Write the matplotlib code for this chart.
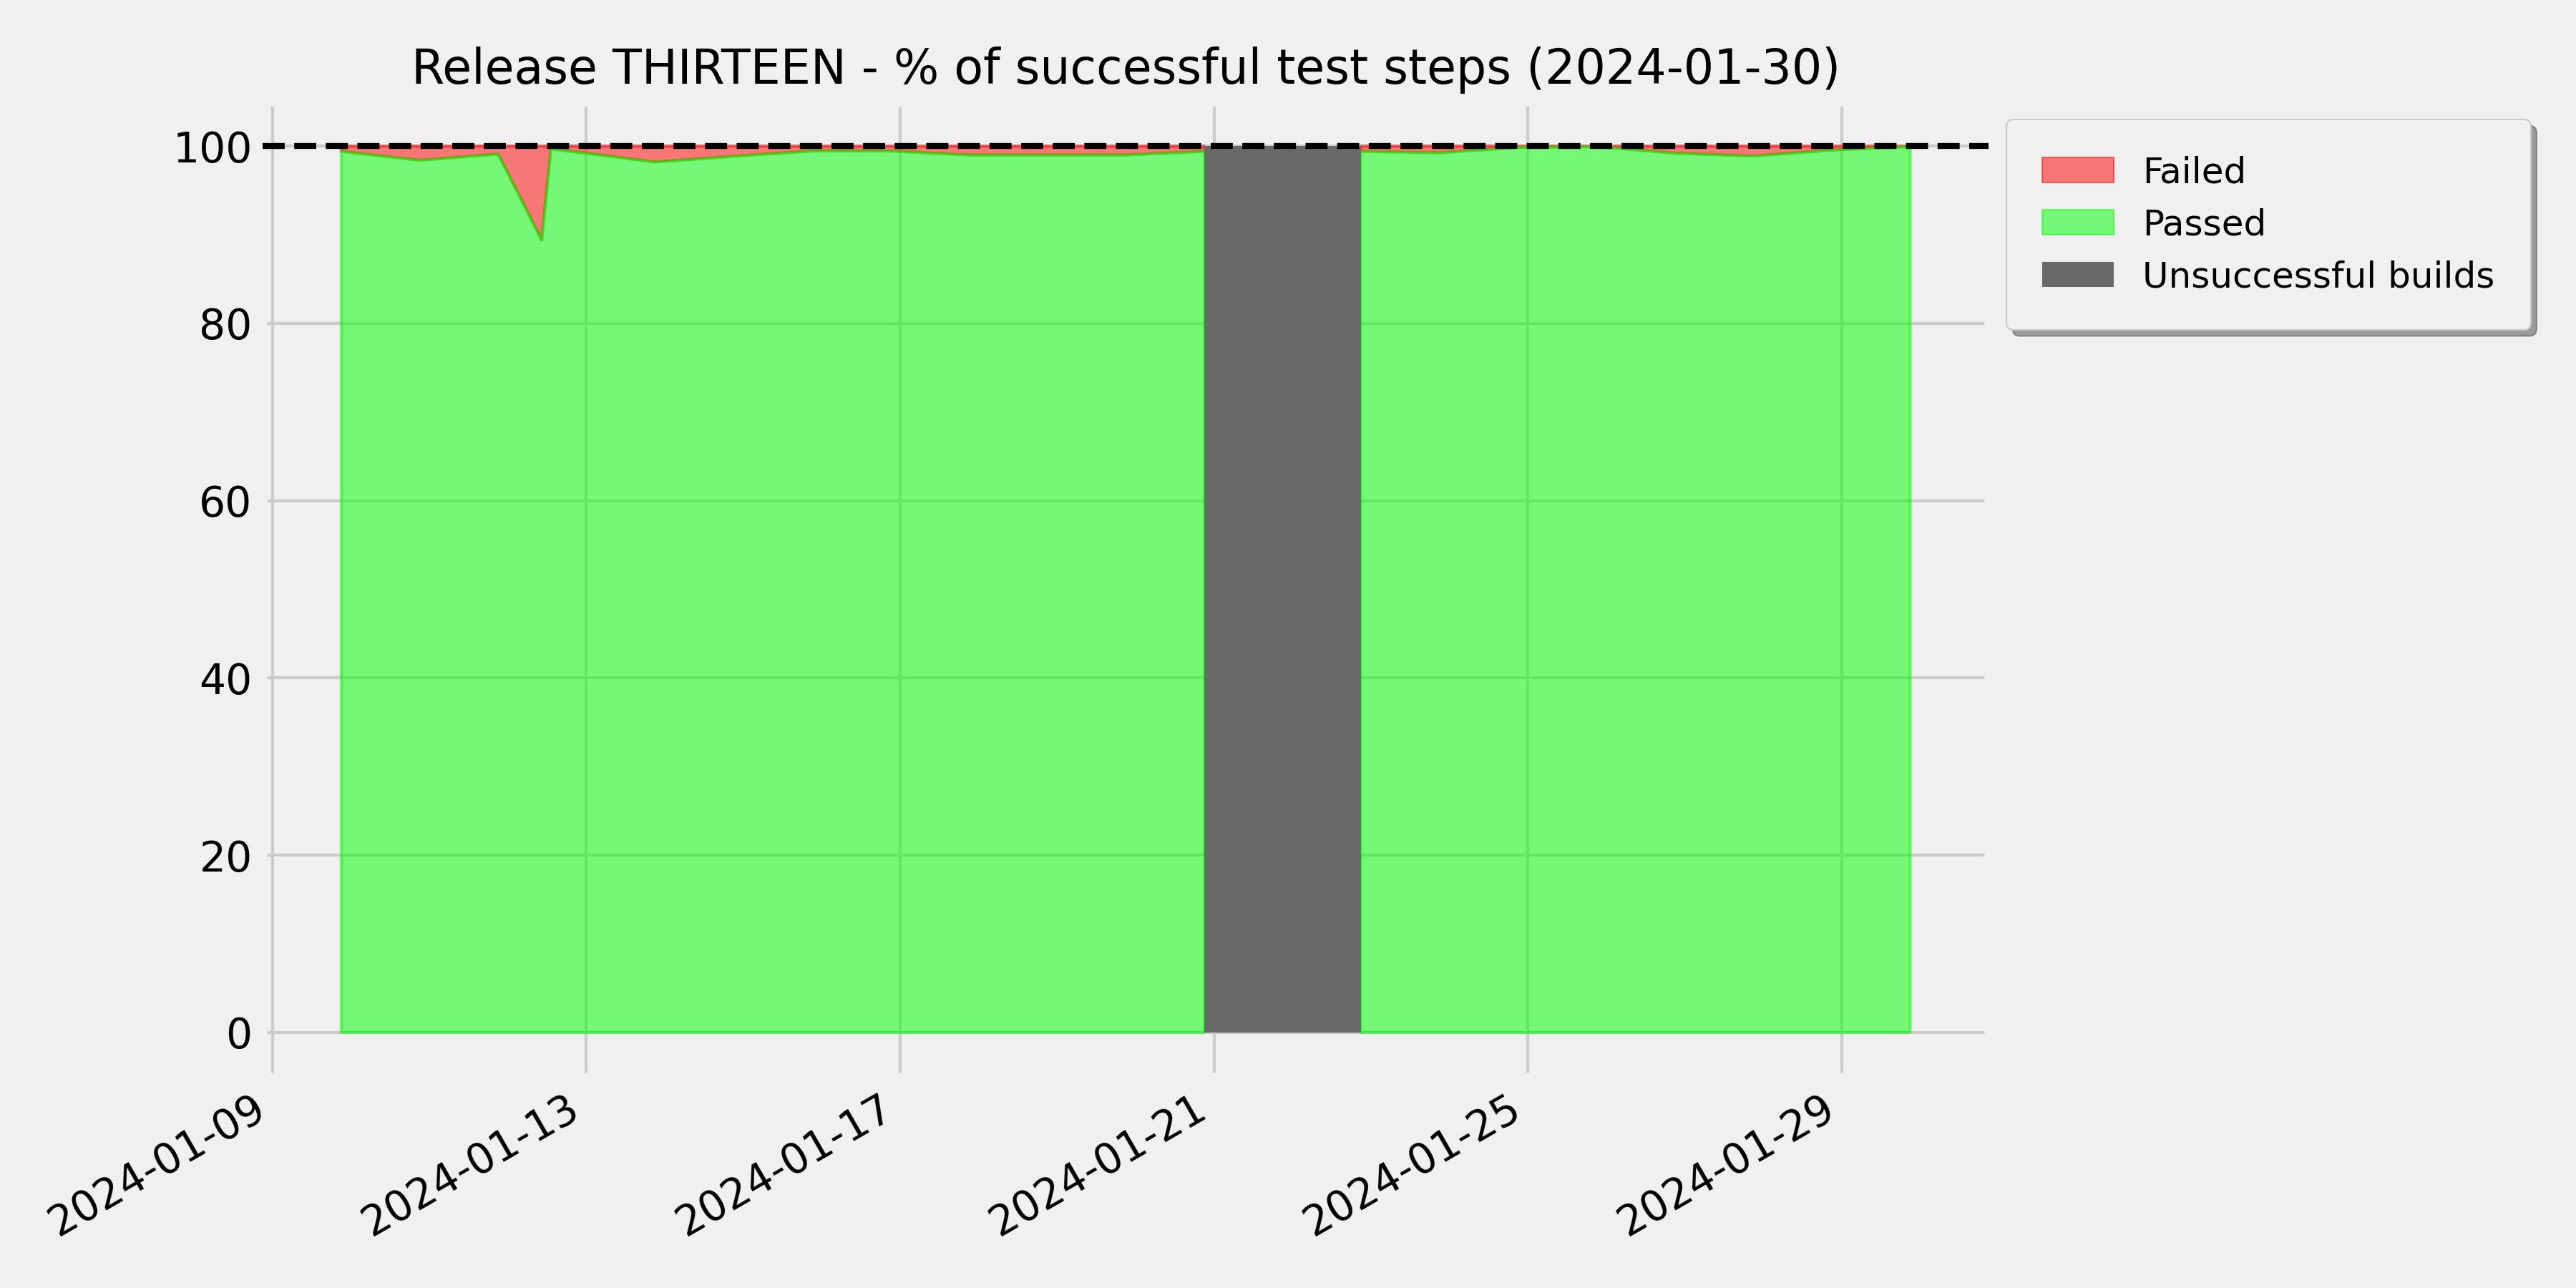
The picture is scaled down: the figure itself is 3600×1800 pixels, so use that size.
import matplotlib
matplotlib.use('Agg')
import matplotlib.pyplot as plt
import matplotlib.dates as mdates
import matplotlib.patches as mpatches
import numpy as np
import pandas as pd

# Fechas de ejecucion y % de pasos correctos (NaN = build fallido)
fechas = pd.to_datetime([
    "2024-01-09 21:00", "2024-01-10 21:00", "2024-01-11 21:00",
    "2024-01-12 10:20", "2024-01-12 13:10", "2024-01-13 21:00",
    "2024-01-14 21:00", "2024-01-15 21:00", "2024-01-16 21:00",
    "2024-01-17 21:00", "2024-01-18 21:00", "2024-01-19 21:00",
    "2024-01-20 21:00", "2024-01-21 21:00", "2024-01-22 21:00",
    "2024-01-23 21:00", "2024-01-24 21:00", "2024-01-25 21:00",
    "2024-01-26 21:00", "2024-01-27 21:00", "2024-01-28 21:00",
    "2024-01-29 21:00",
])
passed = np.array([
    99.4, 98.4, 99.1,
    89.4, 99.7, 98.2,
    98.85, 99.45, 99.45,
    99.0, 99.0, 99.0,
    99.4, np.nan, 99.4,
    99.25, 99.85, 99.95,
    99.2, 98.87, 99.55,
    99.95,
])
build_ok = [True] * 13 + [False] + [True] * 8

titulo = "Release THIRTEEN - % of successful test steps (2024-01-30)"

plt.style.use('fivethirtyeight')

fig, ax = plt.subplots(figsize=(12, 6), dpi=300)
fig.subplots_adjust(left=0.102, right=0.772, top=0.921, bottom=0.164)

# Areas de pasos fallidos / correctos
ax.fill_between(fechas, passed, 100, color='red', alpha=0.5, lw=1)
ax.fill_between(fechas, 0, passed, color='lime', alpha=0.5, lw=1)

# Builds fallidos en gris
for i, ok in enumerate(build_ok):
    if not ok:
        ax.fill_between([fechas[i - 1], fechas[i + 1]], 0, 100,
                        color='dimgray', lw=0, zorder=3)

ax.axhline(100, color='black', ls='--', lw=2, zorder=4)

# Eje X con fechas
ax.xaxis.set_major_locator(mdates.DayLocator(bymonthday=[1, 5, 9, 13, 17, 21, 25, 29]))
ax.xaxis.set_major_formatter(mdates.DateFormatter('%Y-%m-%d'))
plt.setp(ax.get_xticklabels(), rotation=30, ha='right')
ax.tick_params(labelsize=14)

ax.set_title(titulo, fontsize=16)

handles = [
    mpatches.Patch(facecolor='red', edgecolor='red', alpha=0.5, label='Failed'),
    mpatches.Patch(facecolor='lime', edgecolor='lime', alpha=0.5, label='Passed'),
    mpatches.Patch(facecolor='dimgray', label='Unsuccessful builds'),
]
leg = ax.legend(handles=handles, loc='upper left', bbox_to_anchor=(1.0, 1.0),
                fontsize=12, shadow=True, fancybox=True, borderpad=1.0)
leg.get_frame().set_facecolor('#f0f0f0')
leg.get_frame().set_edgecolor('#cccccc')

fig.savefig('out.png', dpi=300)
